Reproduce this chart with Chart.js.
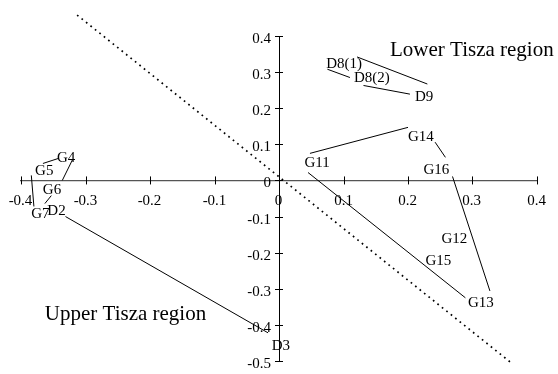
<!DOCTYPE html>
<html>
<head>
<meta charset="utf-8">
<title>Tisza sites</title>
<script src="https://cdn.jsdelivr.net/npm/chart.js"></script>
<style>
    body { margin: 0; background: #fff; }
    #wrap { position: relative; width: 558px; height: 374px; }
</style>
</head>
<body>
<div id="wrap"><canvas id="chart"></canvas></div>
<script>
// site labels, at their scores on the two axes
var siteNames = ['G4', 'G5', 'G6', 'G7', 'D2', 'D3', 'D8(1)', 'D8(2)', 'D9', 'G11', 'G14', 'G16', 'G12', 'G15', 'G13'];
var siteX = [-0.330, -0.364, -0.352, -0.370, -0.345, 0.003, 0.101, 0.144, 0.225, 0.059, 0.220, 0.244, 0.272, 0.247, 0.313];
var siteY = [0.064, 0.028, -0.025, -0.089, -0.083, -0.456, 0.325, 0.286, 0.233, 0.050, 0.122, 0.033, -0.158, -0.219, -0.336];

// outline segments between the sites: [x1, y1, x2, y2]
var segments = [
    [-0.366, 0.047, -0.342, 0.061],   // G5 - G4
    [-0.320, 0.058, -0.336, 0.000],   // G4 - G6
    [-0.353, -0.042, -0.363, -0.064], // G6 - G7
    [-0.384, 0.014, -0.380, -0.072],  // G5 - G7
    [-0.331, -0.100, -0.017, -0.422], // D2 - D3
    [0.121, 0.342, 0.230, 0.267],     // D8(1) - D9
    [0.075, 0.308, 0.110, 0.285],     // D8(1) - D8(2)
    [0.131, 0.263, 0.203, 0.239],     // D8(2) - D9
    [0.048, 0.075, 0.200, 0.147],     // G11 - G14
    [0.242, 0.106, 0.258, 0.064],     // G14 - G16
    [0.269, 0.011, 0.327, -0.306],    // G16 - G13
    [0.045, 0.022, 0.289, -0.325]     // G11 - G13
];

// dotted line splitting the two regions
var dividerX = [-0.313, 0.362];
var dividerY = [0.458, -0.508];

var regionNames = ['Lower Tisza region', 'Upper Tisza region'];
var regionX = [0.299, -0.238];
var regionY = [0.364, -0.367];

var xMin = -0.4, xMax = 0.4;
var yMin = -0.5, yMax = 0.4;

var serif = "'Liberation Serif', 'Times New Roman', serif";

var datasets = [];
segments.forEach(function(s) {
    datasets.push({
        data: [{x: s[0], y: s[1]}, {x: s[2], y: s[3]}],
        showLine: true,
        borderColor: '#000',
        borderWidth: 1,
        pointRadius: 0
    });
});
datasets.push({
    data: [{x: dividerX[0], y: dividerY[0]}, {x: dividerX[1], y: dividerY[1]}],
    showLine: true,
    borderColor: '#000',
    borderWidth: 1.7,
    borderDash: [1.7, 4],
    pointRadius: 0,
    clip: false
});

function fmt(v) {
    return String(Number(v.toFixed(1)));
}

// crossing tick marks, tick labels, site and region names
var labelPlugin = {
    id: 'labels',
    afterDraw: function(chart) {
        var ctx = chart.ctx;
        var xs = chart.scales.x, ys = chart.scales.y;
        var x0 = xs.getPixelForValue(0), y0 = ys.getPixelForValue(0);
        ctx.save();
        ctx.strokeStyle = '#000';
        ctx.lineWidth = 1;
        ctx.fillStyle = '#000';
        ctx.font = '15px ' + serif;

        ctx.textAlign = 'center';
        ctx.textBaseline = 'alphabetic';
        xs.ticks.forEach(function(t) {
            var px = Math.round(xs.getPixelForValue(t.value)) + 0.5;
            ctx.beginPath();
            ctx.moveTo(px, y0 - 4);
            ctx.lineTo(px, y0 + 4);
            ctx.stroke();
            ctx.fillText(fmt(t.value), px - 1, y0 + 25);
        });

        ctx.textAlign = 'right';
        ys.ticks.forEach(function(t) {
            var py = Math.round(ys.getPixelForValue(t.value)) + 0.5;
            ctx.beginPath();
            ctx.moveTo(x0 - 4, py);
            ctx.lineTo(x0 + 4, py);
            ctx.stroke();
            ctx.fillText(fmt(t.value), x0 - 8, py + 6.5);
        });

        ctx.textAlign = 'center';
        siteNames.forEach(function(name, i) {
            ctx.fillText(name, xs.getPixelForValue(siteX[i]), ys.getPixelForValue(siteY[i]) + 5);
        });

        ctx.font = '21px ' + serif;
        regionNames.forEach(function(name, i) {
            ctx.fillText(name, xs.getPixelForValue(regionX[i]), ys.getPixelForValue(regionY[i]) + 7);
        });
        ctx.restore();
    }
};

new Chart(document.getElementById('chart'), {
    type: 'scatter',
    data: { datasets: datasets },
    options: {
        responsive: true,
        maintainAspectRatio: false,
        animation: false,
        layout: { padding: { left: 21, right: 21, top: 36, bottom: 13 } },
        plugins: {
            legend: { display: false },
            tooltip: { enabled: false }
        },
        scales: {
            x: {
                type: 'linear',
                min: xMin,
                max: xMax,
                position: { y: 0 },
                ticks: { display: false, stepSize: 0.1 },
                grid: { display: false },
                border: { color: '#555', width: 1.3 }
            },
            y: {
                type: 'linear',
                min: yMin,
                max: yMax,
                position: { x: 0 },
                ticks: { display: false, stepSize: 0.1 },
                grid: { display: false },
                border: { color: '#000', width: 1 }
            }
        }
    },
    plugins: [labelPlugin]
});
</script>
</body>
</html>
